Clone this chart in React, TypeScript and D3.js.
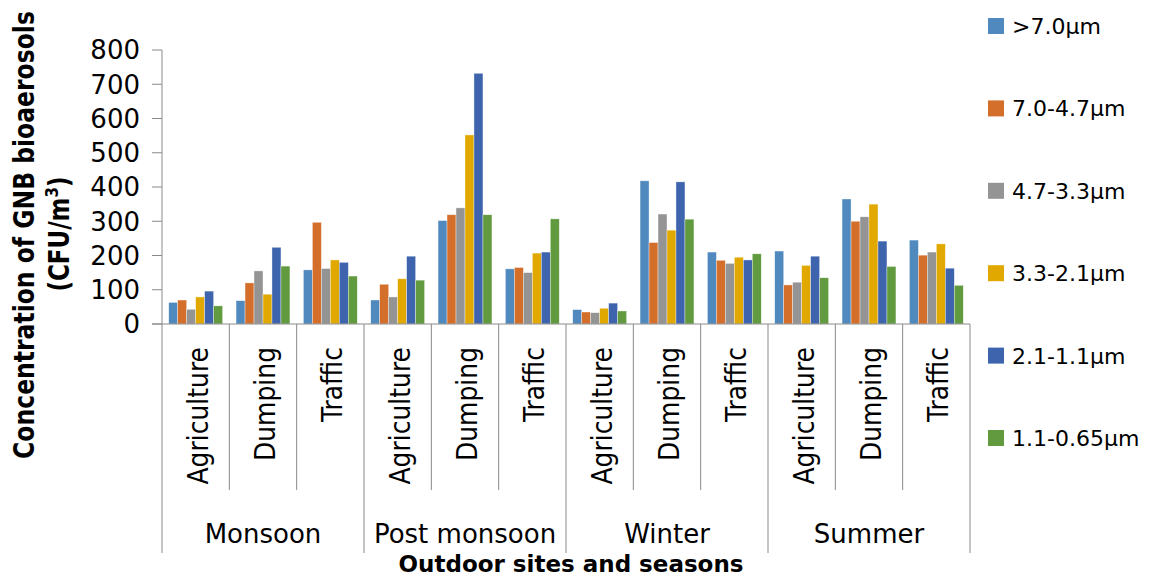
import React from "react";
import * as d3 from "d3";

const sites = ["Agriculture", "Dumping", "Traffic"];
const seasons = ["Monsoon", "Post monsoon", "Winter", "Summer"];
const seriesNames = [">7.0μm", "7.0-4.7μm", "4.7-3.3μm", "3.3-2.1μm", "2.1-1.1μm", "1.1-0.65μm"];
const seriesColors = ["#4F89BD", "#D46F2B", "#949494", "#E1A900", "#3D64AD", "#629A3F"];
const yTicks = [0, 100, 200, 300, 400, 500, 600, 700, 800];

const s1 = [63, 68, 158, 70, 302, 161, 42, 418, 210, 213, 365, 245];
const s2 = [70, 120, 297, 116, 319, 165, 35, 238, 186, 114, 300, 201];
const s3 = [43, 155, 162, 79, 339, 150, 33, 321, 177, 122, 313, 210];
const s4 = [79, 87, 187, 132, 552, 207, 46, 274, 195, 171, 350, 234];
const s5 = [96, 224, 180, 198, 732, 210, 61, 415, 187, 198, 242, 163];
const s6 = [53, 169, 140, 128, 319, 307, 38, 306, 205, 135, 168, 113];
const seriesValues = [s1, s2, s3, s4, s5, s6];

const W = 1162;
const H = 578;
const left = 162;
const right = 970;
const top = 50;
const bottom = 324;
const innerBottom = 490;
const outerBottom = 553;
const FONT = "'DejaVu Sans', sans-serif";
const AX = "#8a8a8a";

export default function App() {
  const categories = seasons.flatMap((s) => sites.map((c) => `${s}|${c}`));
  const x = d3.scaleBand<string>().domain(categories).range([left, right]).padding(0);
  const bw = x.bandwidth();
  const inner = d3
    .scaleBand<number>()
    .domain(d3.range(seriesNames.length))
    .range([bw * 0.1, bw * 0.9])
    .padding(0);
  const y = d3.scaleLinear().domain([0, 800]).range([bottom, top]);

  return (
    <svg width={W} height={H} style={{ position: "absolute", left: 0, top: 0, background: "#fff" }}>
      <rect width={W} height={H} fill="#fff" />
      {/* bars */}
      {seriesValues.map((vals, si) => (
        <g key={si}>
          {vals.map((v, ci) => (
            <rect
              key={ci}
              x={(x(categories[ci]) ?? 0) + (inner(si) ?? 0)}
              y={y(v)}
              width={inner.bandwidth()}
              height={y(0) - y(v)}
              fill={seriesColors[si]}
              stroke="#ffffff"
              strokeOpacity={0.6}
              strokeWidth={0.6}
            />
          ))}
        </g>
      ))}
      {/* y axis */}
      <line x1={left} x2={left} y1={top} y2={outerBottom} stroke={AX} strokeWidth={1} />
      {yTicks.map((t) => (
        <g key={t}>
          <line x1={left - 10} x2={left} y1={y(t)} y2={y(t)} stroke={AX} strokeWidth={1} />
          <text x={left - 22} y={y(t)} dy="0.36em" textAnchor="end" fontFamily={FONT} fontSize={26} fill="#000">
            {t}
          </text>
        </g>
      ))}
      {/* x axis */}
      <line x1={left - 10} x2={right} y1={bottom} y2={bottom} stroke={AX} strokeWidth={1} />
      {categories.map((c, i) => {
        const bx = (x(c) ?? 0) + bw;
        const isSeasonEnd = (i + 1) % sites.length === 0;
        return (
          <line
            key={c}
            x1={bx}
            x2={bx}
            y1={bottom}
            y2={isSeasonEnd ? outerBottom : innerBottom}
            stroke={AX}
            strokeWidth={1}
          />
        );
      })}
      {categories.map((c) => {
        const cx = (x(c) ?? 0) + bw / 2;
        const label = c.split("|")[1];
        return (
          <text
            key={"l" + c}
            transform={`translate(${cx + 12},347) scale(1.15,1) rotate(-90)`}
            textAnchor="end"
            fontFamily={FONT}
            fontSize={25}
            fill="#000"
          >
            {label}
          </text>
        );
      })}
      {seasons.map((s) => {
        const x0 = x(`${s}|${sites[0]}`) ?? 0;
        const cx = x0 + (bw * sites.length) / 2;
        return (
          <text key={s} x={cx} y={543} textAnchor="middle" fontFamily={FONT} fontSize={26} fill="#000">
            {s}
          </text>
        );
      })}
      {/* axis titles */}
      <text x={571} y={572} textAnchor="middle" fontFamily={FONT} fontSize={23} fontWeight="bold" fill="#000">
        Outdoor sites and seasons
      </text>
      <text
        transform="translate(34,235) scale(1.2,1) rotate(-90)"
        textAnchor="middle"
        fontFamily={FONT}
        fontSize={23.5}
        fontWeight="bold"
        fill="#000"
      >
        Concentration of GNB bioaerosols
      </text>
      <text
        transform="translate(69,234) scale(1.2,1) rotate(-90)"
        textAnchor="middle"
        fontFamily={FONT}
        fontSize={23}
        fontWeight="bold"
        fill="#000"
      >
        (CFU/m
        <tspan fontSize={15} dy={-9}>
          3
        </tspan>
        <tspan dy={9}>)</tspan>
      </text>
      {/* legend */}
      {seriesNames.map((n, i) => {
        const cy = 26 + i * 82.4;
        return (
          <g key={n}>
            <rect x={988} y={cy - 8} width={16} height={16} fill={seriesColors[i]} />
            <text x={1012} y={cy} dy="0.36em" fontFamily={FONT} fontSize={22} fill="#000">
              {n}
            </text>
          </g>
        );
      })}
    </svg>
  );
}
